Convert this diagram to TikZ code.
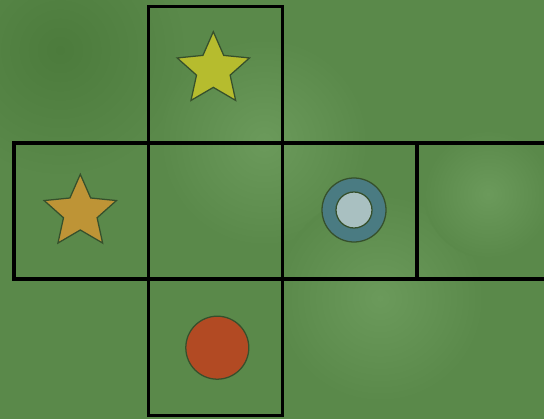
\documentclass[tikz,border=0pt]{standalone}
\usetikzlibrary{positioning,shapes.geometric}

\definecolor{lawn}{HTML}{5A894A}
\definecolor{lawnlight}{HTML}{6B9A5B}
\definecolor{lawndark}{HTML}{4C7B3C}
\definecolor{rimgreen}{HTML}{36502C}
\definecolor{limestar}{HTML}{B6BC2E}
\definecolor{goldstar}{HTML}{BE9436}
\definecolor{ringteal}{HTML}{4A7B82}
\definecolor{ringcore}{HTML}{A9C0C1}
\definecolor{rusty}{HTML}{B24A23}

\tikzset{
  cell/.style={draw=black, line width=2.5pt, minimum width=3.36cm,
    minimum height=3.41cm, inner sep=0pt, outer sep=0pt},
  token/.style={draw=rimgreen, line width=0.9pt, inner sep=0pt},
  starpiece/.style={token, star, star points=5, star point ratio=2.15,
    minimum size=1.9cm},
  disc/.style={token, circle},
}

\begin{document}
\begin{tikzpicture}

\useasboundingbox
(0,0)
rectangle
(13.6,10.45);

\clip
(0,0)
rectangle
(13.6,10.45);

% grass
\fill[lawn]
(-1,-1)
rectangle
(14.6,11.45);

\shade[inner color=lawndark, outer color=lawn]
(1.5,9.2)
circle (3.2);

\shade[inner color=lawnlight, outer color=lawn]
(6.6,6.9)
circle (2.6);

\shade[inner color=lawnlight, outer color=lawn]
(9.5,3.0)
circle (2.6);

\shade[inner color=lawnlight, outer color=lawn]
(12.2,5.6)
circle (1.6);

% board
\node[cell]
(mid)
at (5.3875,5.175)
{};

\node[cell, above=0pt of mid]
(up)
{};

\node[cell, below=0pt of mid]
(down)
{};

\node[cell, left=0pt of mid]
(west)
{};

\node[cell, right=0pt of mid]
(east)
{};

\node[cell, right=0pt of east]
(far)
{};

% pieces
\node[starpiece, fill=limestar]
(limepiece)
at (5.333,8.7075)
{};

\node[starpiece, fill=goldstar]
(goldpiece)
at (2.0075,5.1425)
{};

\node[disc, fill=ringteal, minimum size=1.6cm]
(ringpiece)
at (8.85,5.2)
{};

\node[disc, fill=ringcore, minimum size=0.9cm]
(corepiece)
at (ringpiece)
{};

\node[disc, fill=rusty, minimum size=1.575cm]
(redpiece)
at (5.4325,1.7575)
{};

\end{tikzpicture}
\end{document}
